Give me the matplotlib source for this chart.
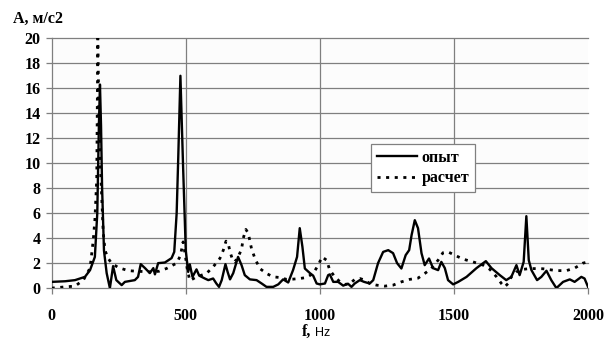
import matplotlib
matplotlib.use("Agg")
import matplotlib.pyplot as plt

# ---- data ----
f_exp = [0, 50, 87, 124, 143, 161, 170, 176, 180, 184, 188, 195, 205, 217, 229, 241, 261, 273,
         310, 322, 332, 348, 366, 379, 385, 397, 422, 447, 457, 466, 472, 480, 490, 500, 509,
         515, 525, 540, 550, 571, 584, 602, 614, 624, 634, 648, 656, 665, 677, 695, 708, 720,
         739, 764, 783, 801, 826, 845, 863, 882, 900, 915, 925, 935, 944, 963, 975, 988, 1000,
         1019, 1031, 1037, 1050, 1068, 1087, 1105, 1118, 1130, 1149, 1165, 1186, 1199, 1217,
         1236, 1255, 1273, 1288, 1304, 1320, 1333, 1342, 1354, 1366, 1379, 1391, 1407, 1422,
         1441, 1453, 1466, 1478, 1497, 1516, 1547, 1584, 1619, 1640, 1671, 1695, 1714, 1733,
         1745, 1760, 1770, 1779, 1789, 1810, 1826, 1845, 1863, 1882, 1907, 1932, 1950, 1975,
         1987, 2000]
a_exp = [0.5, 0.55, 0.64, 0.9, 1.44, 2.5, 6.0, 13.0, 16.3, 13.0, 8.0, 3.0, 1.2, 0.0, 1.76, 0.64,
         0.24, 0.5, 0.64, 0.9, 1.92, 1.6, 1.2, 1.6, 1.1, 2.0, 2.05, 2.4, 2.9, 6.0, 10.5, 17.0,
         9.7, 3.0, 1.3, 1.9, 0.9, 1.5, 1.0, 0.77, 0.64, 0.77, 0.37, 0.1, 0.64, 1.92, 1.3, 0.7,
         1.2, 2.5, 1.84, 1.04, 0.7, 0.64, 0.37, 0.1, 0.1, 0.3, 0.7, 0.45, 1.44, 2.5, 4.8, 3.3,
         1.57, 1.2, 1.0, 0.37, 0.3, 0.37, 1.04, 1.1, 0.5, 0.5, 0.2, 0.35, 0.1, 0.37, 0.64, 0.5,
         0.37, 0.64, 2.0, 2.9, 3.04, 2.8, 2.0, 1.57, 2.64, 3.04, 4.24, 5.44, 4.8, 2.8, 1.84,
         2.37, 1.6, 1.44, 2.1, 1.6, 0.64, 0.3, 0.5, 0.9, 1.6, 2.16, 1.6, 1.04, 0.64, 0.9, 1.84,
         1.04, 2.1, 5.76, 2.24, 1.44, 0.64, 0.9, 1.39, 0.64, 0.0, 0.5, 0.7, 0.5, 0.9, 0.77, 0.1]

f_calc = [0, 50, 87, 118, 143, 155, 161, 168, 172, 176, 181, 186, 192, 199, 211, 223, 248, 285,
          317, 372, 400, 428, 466, 480, 490, 497, 505, 515, 540, 577, 602, 627, 640, 650, 658,
          665, 675, 683, 695, 708, 714, 724, 733, 745, 758, 776, 801, 826, 851, 876, 900, 925,
          950, 975, 994, 1008, 1025, 1037, 1056, 1075, 1093, 1112, 1130, 1149, 1168, 1186, 1211,
          1242, 1273, 1304, 1335, 1366, 1391, 1416, 1441, 1459, 1478, 1503, 1534, 1571, 1609,
          1634, 1659, 1677, 1689, 1702, 1714, 1733, 1758, 1782, 1832, 1882, 1919, 1950, 1981,
          2000]
a_calc = [0.0, 0.1, 0.16, 0.64, 1.6, 3.84, 5.44, 8.7, 20.0, 14.0, 10.0, 7.6, 4.5, 3.0, 2.37,
          2.0, 1.65, 1.4, 1.35, 1.3, 1.35, 1.57, 2.0, 2.6, 3.7, 2.8, 1.6, 0.6, 0.9, 1.17, 1.7,
          2.37, 3.04, 3.76, 3.6, 2.9, 2.24, 2.1, 2.5, 3.1, 3.97, 4.7, 4.4, 3.17, 2.37, 1.57,
          1.17, 0.9, 0.85, 0.7, 0.72, 0.77, 0.85, 1.17, 1.84, 2.5, 2.24, 1.44, 0.9, 0.5, 0.3,
          0.35, 0.7, 0.77, 0.64, 0.37, 0.24, 0.16, 0.24, 0.5, 0.7, 0.8, 1.17, 1.57, 2.24, 2.83,
          2.9, 2.64, 2.32, 2.1, 1.84, 1.5, 0.9, 0.37, 0.1, 0.37, 0.9, 1.3, 1.5, 1.57, 1.55, 1.4,
          1.4, 1.6, 2.0, 2.1]

x_ticks = [0, 500, 1000, 1500, 2000]
y_ticks = [0, 2, 4, 6, 8, 10, 12, 14, 16, 18, 20]
labels = ["опыт", "расчет"]

serif_b = dict(family="Liberation Serif", weight="bold")

fig = plt.figure(figsize=(6.11, 3.43), dpi=100)
fig.patch.set_facecolor("white")
ax = fig.add_axes([0.0846, 0.160, 0.8778, 0.7283])
ax.set_facecolor("#fcfcfc")

ax.plot(f_exp, a_exp, color="black", lw=1.7, label=labels[0], solid_joinstyle="round", zorder=3)
ax.plot(f_calc, a_calc, color="black", lw=2.0, linestyle=(0, (1.1, 2.0)), label=labels[1], zorder=3)

ax.set_xlim(0, 2000)
ax.set_ylim(0, 20)
ax.set_xticks(x_ticks)
ax.set_yticks(y_ticks)
for y in y_ticks[1:]:
    ax.axhline(y, color="#7f7f7f", lw=0.9, zorder=1, clip_on=False)
for x in x_ticks[1:-1]:
    ax.axvline(x, color="#7f7f7f", lw=0.9, zorder=1)

for s in ["top", "right"]:
    ax.spines[s].set_visible(False)
for s in ["left", "bottom"]:
    ax.spines[s].set_color("#7f7f7f")
    ax.spines[s].set_linewidth(0.9)
ax.tick_params(axis="both", direction="out", length=4, width=0.9, color="#7f7f7f",
               labelsize=11.5)
ax.tick_params(axis="x", pad=10)
ax.tick_params(axis="y", pad=4)
for lab in ax.get_xticklabels() + ax.get_yticklabels():
    lab.set_fontfamily("Liberation Serif")
    lab.set_fontweight("bold")

fig.text(13 / 611, 1 - 19 / 343, "A, м/с2", fontsize=11.5, va="center", ha="left", **serif_b)
fig.text(302 / 611, 1 - 332 / 343, "f,", fontsize=11.5, va="center", ha="left", **serif_b)
fig.text(315 / 611, 1 - 333 / 343, "Hz", fontsize=9, va="center", ha="left",
         family="Liberation Sans")

leg = ax.legend(loc="upper left", bbox_to_anchor=(0.596, 0.577), frameon=True, fancybox=False,
                prop=dict(family="Liberation Serif", weight="bold", size=11.5),
                handlelength=2.5, borderpad=0.35, labelspacing=0.3, handletextpad=0.3,
                borderaxespad=0)
leg.get_frame().set_edgecolor("#808080")
leg.get_frame().set_linewidth(0.9)
leg.get_frame().set_facecolor("white")
leg.get_frame().set_alpha(1)

fig.savefig("out.png", dpi=100)
